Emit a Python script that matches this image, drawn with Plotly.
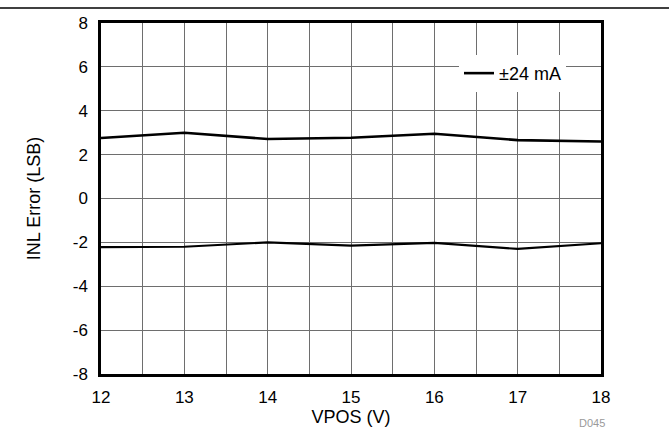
import plotly.graph_objects as go

vpos = [12, 13, 14, 15, 16, 17, 18]
inl_max = [2.76, 3.0, 2.71, 2.77, 2.95, 2.66, 2.6]
inl_min = [-2.22, -2.2, -2.0, -2.15, -2.02, -2.3, -2.04]
series_name = "±24 mA"
x_ticks = [12, 13, 14, 15, 16, 17, 18]
y_ticks = [-8, -6, -4, -2, 0, 2, 4, 6, 8]
y_tick_text = ["-8", "-6", "-4", "-2", "0", "2", "4", "6", "8"]

W, H = 669, 430
ML, MR, MT, MB = 101, 68, 23, 56
PW, PH = W - ML - MR, H - MT - MB

fig = go.Figure()
fig.add_trace(go.Scatter(x=vpos, y=inl_max, mode="lines", name=series_name,
                         line=dict(color="black", width=2.6), showlegend=True))
fig.add_trace(go.Scatter(x=vpos, y=inl_min, mode="lines", name=series_name,
                         line=dict(color="black", width=2.2), showlegend=False))

FAM = "Liberation Sans, Arial, sans-serif"
tick_font = dict(family=FAM, size=17, color="black")
title_font = dict(family=FAM, size=18, color="black")
fig.update_layout(
    width=W, height=H,
    margin=dict(l=ML, r=MR, t=MT, b=MB, autoexpand=False),
    paper_bgcolor="white", plot_bgcolor="white",
    font=tick_font,
    showlegend=True,
    legend=dict(x=0.93, xanchor="right", y=0.909, yanchor="top",
                bgcolor="white", borderwidth=0, font=title_font,
                itemwidth=30, tracegroupgap=0),
    xaxis=dict(range=[12, 18], tickvals=x_ticks, ticks="", showgrid=True,
               gridcolor="#6e6e6e", gridwidth=1, tickfont=tick_font,
               minor=dict(dtick=0.5, showgrid=True, gridcolor="#6e6e6e", gridwidth=1),
               showline=True, linecolor="black", linewidth=2.5, mirror=True,
               zeroline=False, ticklabelstandoff=6,
               title=dict(text="VPOS (V)", standoff=0, font=title_font)),
    yaxis=dict(range=[-8, 8], tickvals=y_ticks, ticktext=y_tick_text, ticks="",
               showgrid=True, gridcolor="#6e6e6e", gridwidth=1, tickfont=tick_font,
               showline=True, linecolor="black", linewidth=2.5, mirror=True,
               zeroline=False, ticklabelstandoff=7,
               title=dict(text="INL Error (LSB)", standoff=28, font=title_font)),
    shapes=[dict(type="line", xref="paper", yref="paper",
                 x0=-ML / PW, x1=(W - ML) / PW,
                 y0=1 + (MT - 8) / PH, y1=1 + (MT - 8) / PH,
                 line=dict(color="black", width=1.5))],
    annotations=[dict(text="D045", xref="paper", yref="paper",
                      x=(592 - ML) / PW, y=-(423 - MT - PH) / PH,
                      xanchor="center", yanchor="middle", showarrow=False,
                      font=dict(family=FAM, size=11, color="#9a9a9a"))],
)

fig.write_html("out.html", config={"displayModeBar": False},
               post_script="document.body.style.margin='0';document.body.style.overflow='hidden';")
